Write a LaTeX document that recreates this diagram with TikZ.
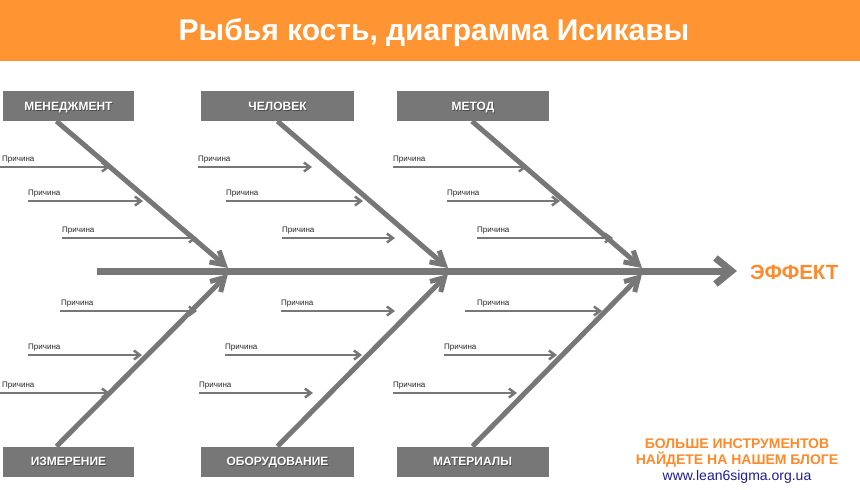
\documentclass[tikz,border=0pt]{standalone}
\usepackage{fontspec}
\setmainfont{Liberation Sans}
\usetikzlibrary{arrows.meta,calc}
\definecolor{bone}{HTML}{777777}
\definecolor{orng}{HTML}{FF9433}
\definecolor{effect}{HTML}{FF8A2B}
\definecolor{urlblue}{HTML}{1C1C99}
\definecolor{causetxt}{HTML}{262626}
\definecolor{shadowgray}{HTML}{4A4A4A}
\tikzset{
  catbox/.style={fill=bone, draw=none, minimum height=30pt, inner sep=0pt},
  catlbl/.style={text=white, font=\bfseries\fontsize{12}{13}\selectfont, inner sep=0pt, anchor=base},
  catshadow/.style={text=shadowgray, font=\bfseries\fontsize{12}{13}\selectfont, inner sep=0pt, anchor=base},
  bonearrow/.style={draw=bone, line width=5pt, -{Straight Barb[length=13pt,width=15pt]}},
  spinearrow/.style={draw=bone, line width=7pt, -{Straight Barb[length=16pt,width=26pt]}},
  causearrow/.style={draw=bone, line width=2.5pt, -{Straight Barb[length=6pt,width=9pt]}},
  causelbl/.style={text=causetxt, font=\fontsize{8}{9}\selectfont, anchor=base west, inner sep=0pt},
  orangetxt/.style={text=effect, font=\bfseries\fontsize{14}{15}\selectfont, inner sep=0pt},
}
% name, centre x, width, centre y, label
\newcommand\fishcat[5]{%
  \node[catbox, minimum width=#3pt] (#1) at (#2,#4) {};
  \node[catshadow] (#1s) at ($(#1.center)+(0.8,5.1)$) {#5};
  \node[catlbl] (#1l) at ($(#1.center)+(0,4.3)$) {#5};
}
% name, line start x, line end x, line y, label x
\newcommand\fishcause[5]{%
  \coordinate (#1a) at (#2,#4);
  \coordinate (#1b) at (#3,#4);
  \draw[causearrow] (#1a) -- (#1b);
  \node[causelbl] (#1t) at (#5,#4-6) {Причина};
}
\begin{document}
\begin{tikzpicture}[x=1pt,y=-1pt]
\useasboundingbox (0,0) rectangle (860,490);
% title bar
\node[fill=orng, draw=none, minimum width=860pt, minimum height=61pt, inner sep=0pt, anchor=north west] (bar) at (0,0) {};
\node[text=white, font=\bfseries\fontsize{30}{32}\selectfont, inner sep=0pt, anchor=base] (title) at (434,40) {Рыбья кость, диаграмма Исикавы};

% category boxes
\fishcat{man}{68.5}{131}{106}{МЕНЕДЖМЕНТ}
\fishcat{hum}{277.5}{153}{106}{ЧЕЛОВЕК}
\fishcat{met}{473}{152}{106}{МЕТОД}
\fishcat{mea}{68.5}{131}{461.5}{ИЗМЕРЕНИЕ}
\fishcat{equ}{277.5}{153}{461.5}{ОБОРУДОВАНИЕ}
\fishcat{mat}{472.5}{152}{461.5}{МАТЕРИАЛЫ}

% spine
\coordinate (sp0) at (97,271);
\node[text=effect, font=\bfseries\fontsize{20.5}{22}\selectfont, inner sep=0pt, anchor=base west] (eff) at (750,279) {ЭФФЕКТ};
\coordinate (sp1) at (737,271);
\draw[spinearrow] (sp0) -- (sp1);

% bones
\coordinate (t1) at (228,268);
\coordinate (t2) at (448,268);
\coordinate (t3) at (642,268);
\coordinate (b1) at (228,274);
\coordinate (b2) at (448,274);
\coordinate (b3) at (642,274);
\draw[bonearrow] ($(man.south)+(-12,0)$) -- (t1);
\draw[bonearrow] (hum.south) -- (t2);
\draw[bonearrow] ($(met.south)+(-1,0)$) -- (t3);
\draw[bonearrow] ($(mea.north)+(-12,0)$) -- (b1);
\draw[bonearrow] (equ.north) -- (b2);
\draw[bonearrow] (mat.north) -- (b3);

% causes, top
\fishcause{a1}{0}{110}{167}{2}
\fishcause{a2}{28}{143}{201}{28}
\fishcause{a3}{62}{197}{238}{62}
\fishcause{c1}{198}{312}{167}{198}
\fishcause{c2}{226}{363}{201}{226}
\fishcause{c3}{282}{395}{238}{282}
\fishcause{e1}{393}{527}{167}{393}
\fishcause{e2}{447}{560}{201}{447}
\fishcause{e3}{477}{613}{238}{477}
% causes, bottom
\fishcause{f1}{60}{197}{311}{61}
\fishcause{f2}{28}{142}{355}{28}
\fishcause{f3}{0}{110}{393}{2}
\fishcause{g1}{281}{395}{311}{281}
\fishcause{g2}{225}{362}{355}{225}
\fishcause{g3}{199}{313}{393}{199}
\fishcause{h1}{465}{602}{311}{477}
\fishcause{h2}{444}{557}{355}{444}
\fishcause{h3}{393}{517}{393}{393}

% footer
\node[orangetxt] (more1) at (737,444) {БОЛЬШЕ ИНСТРУМЕНТОВ};
\node[orangetxt] (more2) at (737,460) {НАЙДЕТЕ НА НАШЕМ БЛОГЕ};
\node[text=urlblue, font=\fontsize{14}{15}\selectfont, inner sep=0pt, anchor=base] (url) at (737,480) {www.lean6sigma.org.ua};
\end{tikzpicture}
\end{document}
